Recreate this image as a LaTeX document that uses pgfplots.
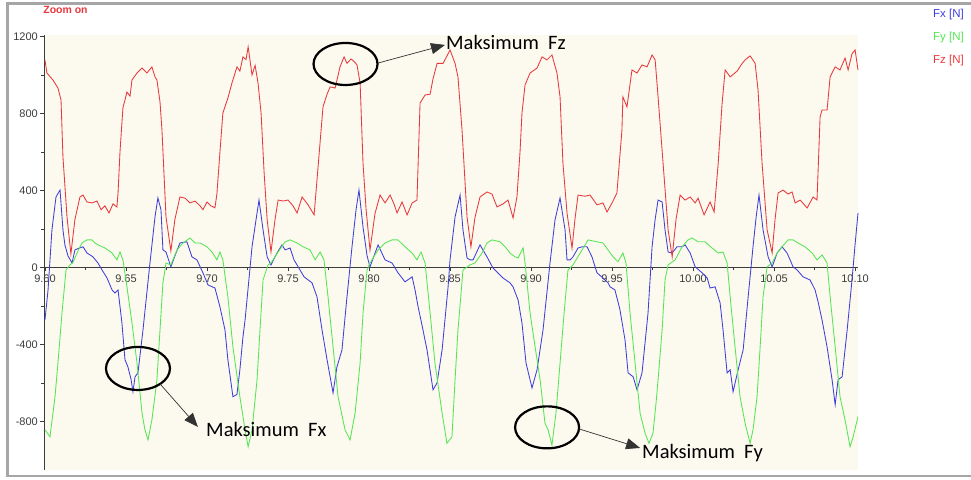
\documentclass[border=0pt]{standalone}
\usepackage{fontspec}
\setmainfont{Liberation Sans}
\newfontfamily\anno{Carlito}
\usepackage{pgfplots}
\pgfplotsset{compat=1.18}
\usetikzlibrary{arrows.meta}
\definecolor{cream}{RGB}{252,249,238}
\definecolor{fxblue}{RGB}{62,62,220}
\definecolor{fygreen}{RGB}{84,230,84}
\definecolor{fzred}{RGB}{232,56,61}
\definecolor{axgray}{RGB}{60,60,60}
\definecolor{bordergray}{RGB}{166,166,166}
\begin{document}
\begin{tikzpicture}[x=1pt,y=1pt]
\useasboundingbox (0,0) rectangle (971,479);
\begin{axis}[
  at={(44pt,9.5pt)}, anchor=south west,
  scale only axis, width=814pt, height=434pt,
  xmin=9.5994, xmax=10.1018, ymin=-1050, ymax=1205,
  axis x line=middle, axis y line=left,
  axis line style={-, axgray, line width=0.8pt},
  axis background/.style={fill=cream},
  xtick={9.6,9.65,9.7,9.75,9.8,9.85,9.9,9.95,10,10.05,10.1},
  xticklabels={9.60,9.65,9.70,9.75,9.80,9.85,9.90,9.95,10.00,10.05,10.10},
  minor x tick num=1,
  ytick={-800,-400,0,400,800,1200},
  yticklabels={-800,-400,0,400,800,1200},
  minor y tick num=1,
  tick align=outside,
  tick style={axgray, line width=0.6pt},
  major tick length=4pt, minor tick length=3pt,
  ticklabel style={font=\fontsize{11}{13}\selectfont, text=axgray},
  xticklabel style={inner sep=1pt, yshift=-2.5pt},
  yticklabel style={inner sep=2pt},
  clip=false,
  every axis plot/.append style={line width=0.85pt, mark=none},
]
% Fx
\addplot[fxblue] coordinates {
(9.6000,-273)(9.6019,-117)(9.6043,195)(9.6068,366)(9.6093,402)(9.6111,195)(9.6123,117)(9.6142,60)(9.6167,23)(9.6185,91)(9.6210,100)(9.6235,107)(9.6259,75)(9.6296,55)(9.6327,23)(9.6352,-13)(9.6383,-55)(9.6414,-117)(9.6432,-133)(9.6451,-117)(9.6475,-288)(9.6494,-480)(9.6512,-517)(9.6531,-580)(9.6543,-646)(9.6556,-568)(9.6574,-548)(9.6605,-325)(9.6629,-130)(9.6648,23)(9.6679,262)(9.6697,361)(9.6716,300)(9.6728,91)(9.6747,80)(9.6777,3)
(9.6802,60)(9.6833,127)(9.6876,133)(9.6907,55)(9.6938,39)(9.6975,-28)(9.7006,-91)(9.7049,-107)(9.7080,-205)(9.7111,-325)(9.7129,-480)(9.7160,-672)(9.7185,-660)(9.7203,-532)(9.7222,-361)(9.7235,-273)(9.7278,107)(9.7303,250)(9.7321,350)(9.7346,195)(9.7371,55)(9.7395,13)
(9.7432,75)(9.7463,117)(9.7482,91)(9.7513,101)(9.7537,39)(9.7574,-13)(9.7599,-49)(9.7648,-80)(9.7679,-153)(9.7710,-325)(9.7741,-480)(9.7778,-652)(9.7802,-517)(9.7833,-429)(9.7864,-153)(9.7895,107)(9.7920,300)(9.7938,402)(9.7963,210)(9.7988,60)(9.8006,3)
(9.8031,60)(9.8056,117)(9.8099,39)(9.8142,23)(9.8179,-28)(9.8222,-75)(9.8266,-49)(9.8284,-117)(9.8303,-205)(9.8327,-300)(9.8358,-429)(9.8395,-636)(9.8420,-600)(9.8451,-429)(9.8488,-101)(9.8500,39)(9.8531,262)(9.8562,376)(9.8580,195)(9.8605,49)(9.8623,39)(9.8642,39)
(9.8685,117)(9.8728,55)(9.8765,-3)(9.8827,-55)(9.8870,-80)(9.8889,-101)(9.8920,-169)(9.8944,-288)(9.8969,-497)(9.9006,-626)(9.9037,-532)(9.9074,-325)(9.9117,23)(9.9148,247)(9.9179,361)(9.9210,195)(9.9222,39)(9.9241,39)(9.9259,55)
(9.9290,101)(9.9315,107)(9.9346,107)(9.9376,55)(9.9407,-28)(9.9444,-55)(9.9475,-80)(9.9488,-101)(9.9518,-117)(9.9549,-221)(9.9580,-377)(9.9599,-548)(9.9630,-568)(9.9654,-636)(9.9685,-548)(9.9722,-237)(9.9747,107)(9.9766,250)(9.9784,350)(9.9809,340)(9.9827,195)(9.9846,80)(9.9871,75)
(9.9901,107)(9.9932,107)(9.9951,117)(9.9982,75)(10.0013,3)(10.0056,-28)(10.0087,-55)(10.0105,-107)(10.0136,-101)(10.0167,-185)(10.0185,-325)(10.0210,-548)(10.0229,-532)(10.0247,-646)(10.0278,-532)(10.0309,-429)(10.0340,-153)(10.0370,107)(10.0389,260)(10.0407,376)(10.0432,195)(10.0463,55)(10.0488,3)
(10.0519,75)(10.0549,107)(10.0580,75)(10.0599,39)(10.0617,3)(10.0642,-13)(10.0679,-49)(10.0722,-65)(10.0753,-117)(10.0772,-180)(10.0796,-273)(10.0827,-413)(10.0858,-584)(10.0877,-714)(10.0895,-584)(10.0920,-568)(10.0951,-325)(10.0981,-65)(10.1000,120)(10.1018,283)
};
% Fy
\addplot[fygreen] coordinates {
(9.6000,-844)(9.6031,-880)(9.6062,-672)(9.6080,-497)(9.6105,-237)(9.6130,-13)(9.6154,13)(9.6173,26)(9.6198,75)(9.6228,127)(9.6259,143)(9.6290,143)(9.6309,127)(9.6327,117)(9.6370,101)(9.6414,75)(9.6444,39)(9.6463,80)(9.6481,39)(9.6506,-101)(9.6537,-288)(9.6568,-497)(9.6599,-757)(9.6617,-844)(9.6636,-896)(9.6660,-792)(9.6691,-584)(9.6710,-325)(9.6728,-80)(9.6747,23)(9.6777,13)
(9.6815,91)(9.6852,127)(9.6895,153)(9.6926,127)(9.6957,127)(9.7000,107)(9.7031,80)(9.7061,39)(9.7080,80)(9.7098,39)(9.7129,-153)(9.7160,-413)(9.7203,-672)(9.7235,-844)(9.7254,-932)(9.7278,-844)(9.7309,-584)(9.7327,-325)(9.7346,-65)(9.7377,13)(9.7395,23)
(9.7439,80)(9.7482,133)(9.7513,143)(9.7556,127)(9.7593,107)(9.7636,91)(9.7667,39)(9.7698,80)(9.7722,39)(9.7747,-153)(9.7778,-413)(9.7809,-672)(9.7852,-844)(9.7883,-896)(9.7914,-757)(9.7945,-497)(9.7963,-237)(9.7988,-13)(9.8006,23)
(9.8056,91)(9.8099,127)(9.8142,143)(9.8179,143)(9.8222,107)(9.8266,75)(9.8296,39)(9.8321,80)(9.8346,23)(9.8377,-237)(9.8407,-497)(9.8451,-757)(9.8481,-914)(9.8512,-880)(9.8531,-584)(9.8549,-325)(9.8580,-13)(9.8623,13)
(9.8654,23)(9.8698,75)(9.8728,127)(9.8759,143)(9.8809,133)(9.8840,107)(9.8870,75)(9.8901,55)(9.8920,49)(9.8951,101)(9.8963,23)(9.8994,-237)(9.9025,-413)(9.9056,-584)(9.9086,-809)(9.9105,-844)(9.9129,-923)(9.9154,-757)(9.9179,-497)(9.9204,-237)(9.9228,-13)(9.9259,13)
(9.9315,91)(9.9352,143)(9.9407,133)(9.9444,127)(9.9475,91)(9.9506,55)(9.9537,30)(9.9567,75)(9.9586,23)(9.9611,-237)(9.9642,-497)(9.9673,-757)(9.9704,-862)(9.9728,-914)(9.9753,-860)(9.9772,-700)(9.9784,-584)(9.9809,-325)(9.9827,-65)(9.9846,13)
(9.9889,39)(9.9932,107)(9.9969,143)(9.9994,153)(10.0031,133)(10.0074,133)(10.0117,101)(10.0155,75)(10.0185,80)(10.0210,23)(10.0229,-153)(10.0259,-413)(10.0290,-672)(10.0321,-809)(10.0352,-914)(10.0370,-844)(10.0395,-672)(10.0414,-413)(10.0432,-153)(10.0457,3)(10.0488,23)
(10.0519,75)(10.0549,107)(10.0586,143)(10.0617,143)(10.0648,127)(10.0691,107)(10.0735,75)(10.0765,39)(10.0796,65)(10.0827,23)(10.0846,-153)(10.0877,-413)(10.0907,-672)(10.0938,-792)(10.0969,-932)(10.0988,-880)(10.1018,-775)
};
% Fz
\addplot[fzred] coordinates {
(9.6000,1078)(9.6012,1010)(9.6049,974)(9.6080,932)(9.6099,870)(9.6111,574)(9.6136,262)(9.6160,70)(9.6185,250)(9.6216,366)(9.6235,376)(9.6259,340)(9.6290,335)(9.6321,345)(9.6346,300)(9.6370,320)(9.6395,283)(9.6420,330)(9.6444,314)(9.6451,387)(9.6463,600)(9.6481,828)(9.6506,911)(9.6525,890)(9.6537,974)(9.6568,1010)(9.6599,1036)(9.6629,1010)(9.6660,1042)(9.6679,990)(9.6691,974)(9.6710,860)(9.6722,714)(9.6747,262)(9.6777,86)
(9.6802,250)(9.6833,366)(9.6864,360)(9.6895,335)(9.6926,345)(9.6957,320)(9.6975,300)(9.7000,340)(9.7024,320)(9.7049,310)(9.7061,380)(9.7080,600)(9.7098,802)(9.7129,880)(9.7154,958)(9.7185,1042)(9.7203,1020)(9.7222,1094)(9.7241,1080)(9.7254,1146)(9.7278,1000)(9.7297,1050)(9.7315,958)(9.7334,800)(9.7352,500)(9.7371,250)(9.7395,80)
(9.7420,250)(9.7439,350)(9.7470,345)(9.7500,350)(9.7531,320)(9.7556,283)(9.7587,366)(9.7624,325)(9.7661,273)(9.7679,455)(9.7698,650)(9.7716,834)(9.7741,900)(9.7760,938)(9.7791,932)(9.7821,1042)(9.7846,1094)(9.7864,1060)(9.7889,1083)(9.7908,1070)(9.7926,1052)(9.7945,958)(9.7963,540)(9.7982,300)(9.8006,90)
(9.8037,280)(9.8068,376)(9.8099,335)(9.8130,376)(9.8154,330)(9.8173,283)(9.8204,340)(9.8235,273)(9.8266,335)(9.8296,350)(9.8315,854)(9.8346,896)(9.8377,900)(9.8395,980)(9.8420,1060)(9.8457,1060)(9.8488,1110)(9.8500,1130)(9.8531,1060)(9.8549,990)(9.8574,714)(9.8605,262)(9.8629,107)
(9.8654,260)(9.8685,366)(9.8728,392)(9.8759,381)(9.8790,314)(9.8827,330)(9.8858,350)(9.8889,257)(9.8913,366)(9.8932,600)(9.8944,802)(9.8963,948)(9.8994,1010)(9.9037,1036)(9.9068,1094)(9.9098,1078)(9.9129,1104)(9.9160,1010)(9.9179,886)(9.9197,540)(9.9222,283)(9.9253,100)
(9.9271,250)(9.9290,376)(9.9333,370)(9.9364,376)(9.9407,325)(9.9444,335)(9.9469,288)(9.9500,335)(9.9530,387)(9.9561,714)(9.9567,886)(9.9592,834)(9.9623,1026)(9.9654,1010)(9.9685,1052)(9.9716,1042)(9.9747,1104)(9.9766,1078)(9.9784,886)(9.9815,540)(9.9846,195)(9.9871,55)
(9.9895,250)(9.9920,376)(9.9951,350)(9.9982,366)(10.0013,335)(10.0031,360)(10.0068,273)(10.0105,340)(10.0130,288)(10.0155,540)(10.0179,850)(10.0198,1026)(10.0229,990)(10.0272,1020)(10.0303,1060)(10.0321,1078)(10.0352,1099)(10.0383,1060)(10.0401,922)(10.0426,540)(10.0457,195)(10.0488,75)
(10.0506,250)(10.0525,387)(10.0556,402)(10.0586,381)(10.0611,392)(10.0630,335)(10.0661,350)(10.0704,309)(10.0741,366)(10.0765,350)(10.0784,782)(10.0796,818)(10.0827,818)(10.0846,990)(10.0877,1042)(10.0907,1026)(10.0938,1088)(10.0957,1026)(10.0981,1110)(10.1000,1130)(10.1018,1026)
};
% annotations
\draw[line width=2.2pt] (axis cs:9.7855,1057) ellipse [x radius=32pt, y radius=21pt];
\draw[line width=0.7pt, black!80, -{Triangle[length=14pt,width=11pt]}] (axis cs:9.8056,1062) -- (axis cs:9.8469,1156);
\node[anchor=base west, inner sep=0pt, font=\anno\fontsize{20.5}{24}\selectfont] at (axis cs:9.8475,1130) {Maksimum\hspace{0.45em}Fz};

\draw[line width=2.2pt] (axis cs:9.6574,-525) ellipse [x radius=32pt, y radius=21.5pt];
\draw[line width=0.7pt, black!80, -{Triangle[length=14pt,width=11pt]}] (axis cs:9.6710,-605) -- (axis cs:9.6944,-829);
\node[anchor=base west, inner sep=0pt, font=\anno\fontsize{20.5}{24}\selectfont] at (axis cs:9.6994,-881) {Maksimum\hspace{0.45em}Fx};

\draw[line width=2.2pt] (axis cs:9.9099,-831) ellipse [x radius=32pt, y radius=21pt];
\draw[line width=0.7pt, black!80, -{Triangle[length=14pt,width=11pt]}] (axis cs:9.9296,-839) -- (axis cs:9.9673,-938);
\node[anchor=base west, inner sep=0pt, font=\anno\fontsize{20.5}{24}\selectfont] at (axis cs:9.9685,-995) {Maksimum\hspace{0.45em}Fy};
\end{axis}
% legend and header text
\node[anchor=east, inner sep=0pt, text=fxblue, font=\fontsize{11.5}{13}\selectfont] at (964,464) {Fx [N]};
\node[anchor=east, inner sep=0pt, text=fygreen, font=\fontsize{11.5}{13}\selectfont] at (964,441) {Fy [N]};
\node[anchor=east, inner sep=0pt, text=fzred, font=\fontsize{11.5}{13}\selectfont] at (964,418) {Fz [N]};
\node[inner sep=0pt, text=fzred, font=\bfseries\fontsize{10.5}{12}\selectfont] at (65.5,469) {Zoom on};
% outer frame
\draw[bordergray, line width=2.2pt] (971,475.5) -- (7.5,475.5) -- (7.5,3) -- (971,3);
\end{tikzpicture}
\end{document}
